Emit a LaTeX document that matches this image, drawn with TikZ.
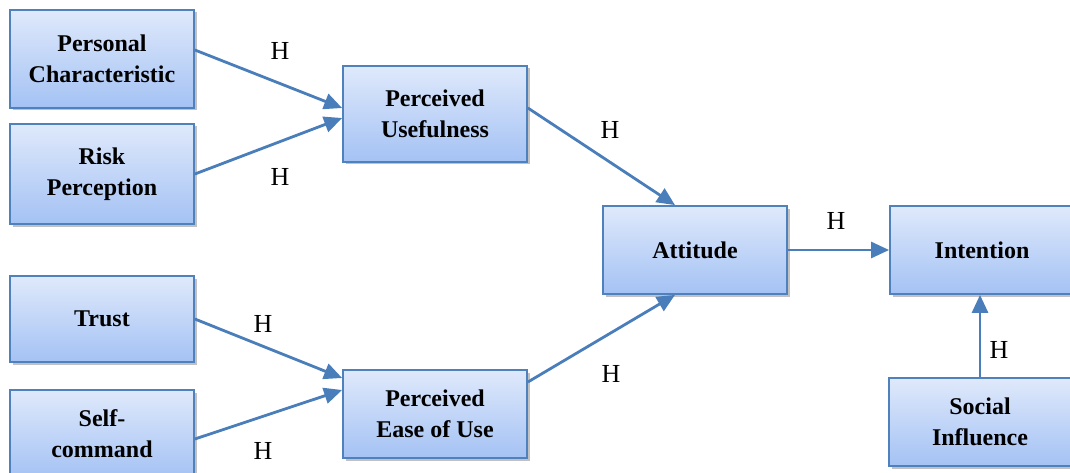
\documentclass[tikz,border=0pt]{standalone}
\usepackage{fontspec}
\setmainfont{Liberation Serif}
\usetikzlibrary{arrows.meta,shadows,calc}
\definecolor{boxtop}{HTML}{DFE9FB}
\definecolor{boxbot}{HTML}{A4C2F4}
\definecolor{boxline}{HTML}{4F81BD}
\definecolor{arrowc}{HTML}{4A7EBB}
\tikzset{
  box/.style={draw=boxline, line width=1.8pt, top color=boxtop, bottom color=boxbot,
    minimum width=184pt, inner sep=0pt, align=center,
    font=\fontsize{24}{31}\selectfont\bfseries,
    drop shadow={opacity=0.35, shadow xshift=2.5pt, shadow yshift=-2.5pt, fill=black!70}},
  conn/.style={draw=arrowc, line width=2.8pt, -{Triangle[length=18pt,width=16pt]}},
  hlab/.style={font=\fontsize{26}{26}\selectfont, inner sep=0pt}
}
\begin{document}
\begin{tikzpicture}[x=1pt,y=-1pt]
\useasboundingbox (0,0) rectangle (1070,473);
\node[box, minimum height=98pt, text depth=-2pt] (pc) at (102,59) {Personal\\Characteristic};
\node[box, minimum height=100pt] (rp) at (102,174) {Risk\\Perception};
\node[box, minimum height=96pt] (pu) at (435,114) {Perceived\\Usefulness};
\node[box, minimum height=88pt] (att) at (695,250) {Attitude};
\node[box, minimum height=88pt] (int) at (982,250) {Intention};
\node[box, minimum height=86pt] (tr) at (102,319) {Trust};
\node[box, minimum height=88pt] (sc) at (102,434) {Self-\\command};
\node[box, minimum height=88pt] (pe) at (435,414) {Perceived\\Ease of Use};
\node[box, minimum height=88pt, minimum width=182pt] (si) at (980,422) {Social\\Influence};

\draw[conn] ([yshift=9pt]pc.east) -- ([yshift=6pt]pu.west);
\draw[conn] (rp.east) -- ([yshift=-4pt]pu.west);
\draw[conn] ([yshift=6pt]pu.east) -- ([xshift=-20pt]att.north);
\draw[conn] (att.east) -- (int.west);
\draw[conn] (si.north) -- (si.north |- int.south);
\draw[conn] (tr.east) -- ([yshift=36pt]pe.west);
\draw[conn] ([yshift=-5pt]sc.east) -- ([yshift=24pt]pe.west);
\draw[conn] ([yshift=32pt]pe.east) -- ([xshift=-20pt]att.south);

\node[hlab] (h1) at (280,51) {H};
\node[hlab] (h2) at (280,177) {H};
\node[hlab] (h3) at (610,130) {H};
\node[hlab] (h4) at (836,221) {H};
\node[hlab] (h5) at (999,350) {H};
\node[hlab] (h6) at (263,324) {H};
\node[hlab] (h7) at (263,451) {H};
\node[hlab] (h8) at (611,374) {H};
\end{tikzpicture}
\end{document}
